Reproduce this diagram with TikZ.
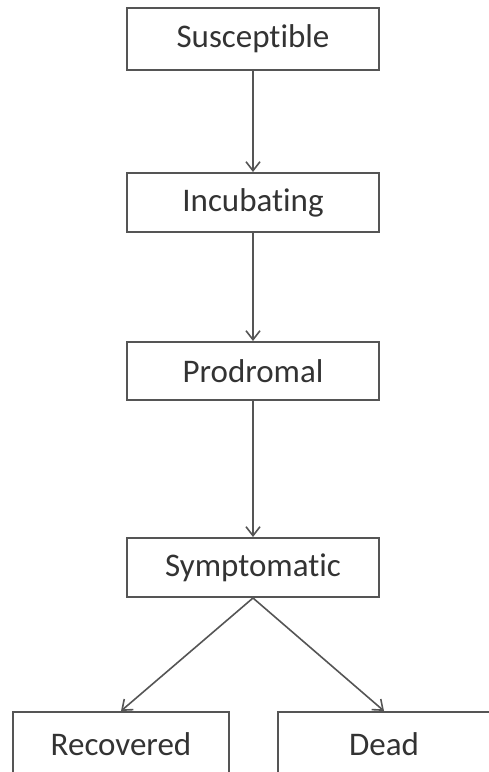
\documentclass[tikz,border=0pt]{standalone}
\usepackage{fontspec}
\setmainfont[Ligatures=NoCommon]{Carlito}
\usetikzlibrary{arrows.meta}
\definecolor{linegray}{HTML}{555555}
\definecolor{txtgray}{HTML}{333333}
\begin{document}
\begin{tikzpicture}[x=1pt,y=-1pt,
  box/.style={draw=linegray, line width=2pt, minimum width=252pt, minimum height=60pt, inner sep=0pt, text=txtgray, font=\fontsize{33}{36}\selectfont},
  wide/.style={box, minimum width=216pt, minimum height=64pt},
  conn/.style={draw=linegray, line width=1.6pt, -{Straight Barb[length=9pt,width=14pt,line width=1.6pt]}}]
\useasboundingbox (0,0) rectangle (489,772);
\clip (0,0) rectangle (489,772);
\node[box, minimum height=62pt] (s) at (253,39) {Susceptible};
\node[box, minimum height=59pt] (i) at (253,202.5) {Incubating};
\node[box, minimum height=58pt] (p) at (253,371) {Prodromal};
\node[box, minimum height=59pt] (y) at (253,567.5) {Symptomatic};
\node[wide] (r) at (121,744) {Recovered};
\node[wide, minimum width=212pt] (d) at (384,744) {Dead};
\draw[conn] (s.south) -- (i.north);
\draw[conn] (i.south) -- (p.north);
\draw[conn] (p.south) -- (y.north);
\draw[conn] (y.south) -- (r.north);
\draw[conn] (y.south) -- (d.north);
\end{tikzpicture}
\end{document}
